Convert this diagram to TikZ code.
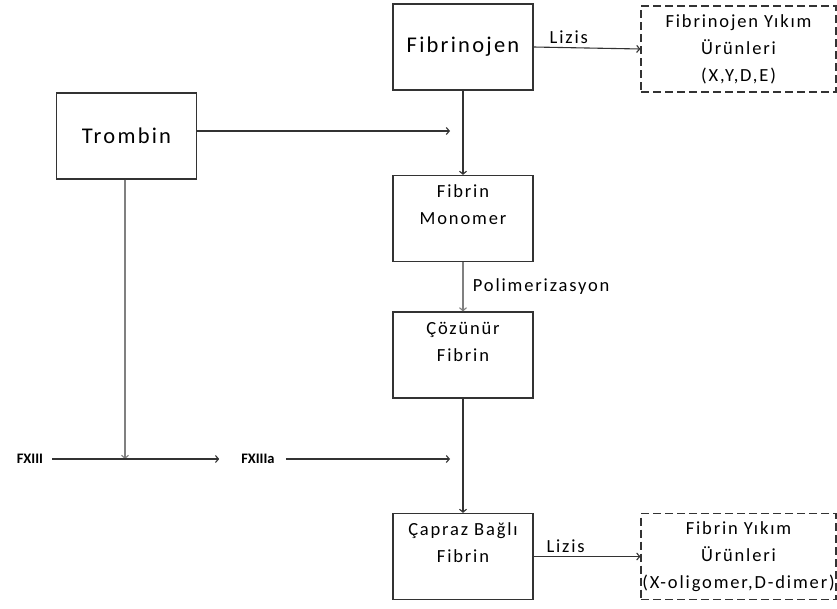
\documentclass[tikz,border=0pt]{standalone}
\usepackage{fontspec}
\setmainfont{Carlito}[LetterSpace=10]
\usetikzlibrary{arrows.meta}
\definecolor{edge}{HTML}{333333}
\definecolor{faint}{HTML}{808080}

\begin{document}
\begin{tikzpicture}[x=1pt,y=-1pt,
  box/.style={draw=edge,line width=1.2pt,minimum width=140pt,minimum height=86pt,
    align=center,inner sep=0pt,font=\fontsize{18.5}{27}\selectfont},
  big/.style={font=\fontsize{22.5}{26}\selectfont},
  prod/.style={box,dash pattern=on 8pt off 4pt,minimum width=195pt},
  arr/.style={draw=edge,line width=1.1pt,-{Straight Barb[length=3pt,width=7pt]}},
  lbl/.style={font=\fontsize{18.5}{21}\selectfont},
  fac/.style={inner sep=0pt,font=\bfseries\fontsize{14.5}{17}\selectfont\addfontfeature{LetterSpace=0}}]

  \useasboundingbox (0,0) rectangle (837,608);

  % boxes
  \node[box,big] (fbg) at (463,47) {Fibrinojen};
  \node[prod] (fyu) at (738.5,49) {Fibrinojen Yıkım\\Ürünleri\\(X,Y,D,E)};
  \node[box,big] (trb) at (126.5,136) {Trombin};
  \node[box] (fm) at (463,218.5) {Fibrin\\Monomer\\\mbox{}};
  \node[box] (cf) at (463,355) {Çözünür\\Fibrin\\\mbox{}};
  \node[box] (cb) at (463,556.5) {Çapraz Bağlı\\Fibrin\\\mbox{}};
  \node[prod] (fby) at (738.5,556.5) {Fibrin Yıkım\\Ürünleri\\(X-oligomer,D-dimer)};

  % factor XIII
  \node[fac] (fx) at (30,459) {FXIII};
  \node[fac] (fxa) at (258,459) {FXIIIa};

  \coordinate (tmb) at (450,131);
  \coordinate (jn) at (125,459);
  \coordinate (fxe) at (450,459);

  % connectors
  \draw[arr] (fbg.east) -- node[lbl,above,pos=0.33] {Lizis} (fyu.west);
  \draw[arr] (trb.east |- tmb) -- (tmb);
  \draw[arr] (fbg.south) -- (fm.north);
  \draw[arr,draw=faint] (fm.south) -- node[lbl,right,xshift=6pt] {Polimerizasyon} (cf.north);
  \draw[arr] (cf.south) -- (cb.north);
  \draw[arr] (cb.east) -- node[lbl,above,pos=0.3] {Lizis} (fby.west);
  \draw[arr,draw=faint] (trb.south -| jn) -- (jn);
  \draw[arr] ([xshift=9pt]fx.east) -- ([xshift=-22pt]fxa.west);
  \draw[arr] ([xshift=11pt]fxa.east) -- (fxe);
\end{tikzpicture}
\end{document}
